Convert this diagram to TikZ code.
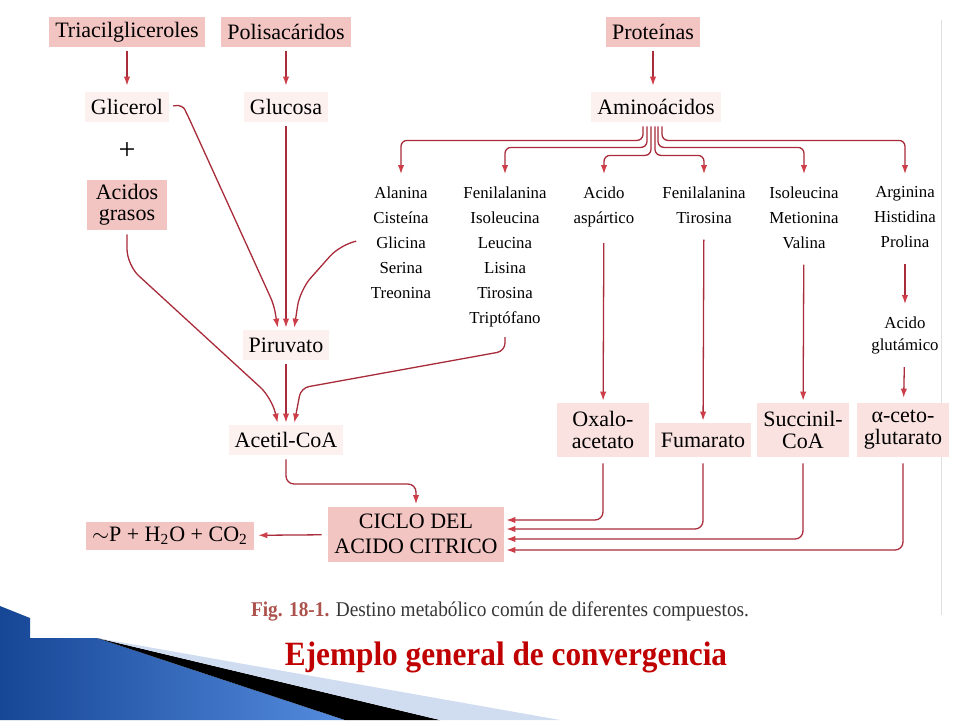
\documentclass[tikz,border=0pt]{standalone}
\usepackage{fontspec}
\setmainfont{Liberation Serif}
\newfontfamily\narrowserif[FakeStretch=0.92]{Liberation Serif}
\usetikzlibrary{arrows.meta, calc, positioning}

\definecolor{boxpink}{RGB}{242,197,195}
\definecolor{softpink}{RGB}{249,226,224}
\definecolor{palepink}{RGB}{253,241,240}
\definecolor{linered}{RGB}{168,44,58}
\definecolor{tipred}{RGB}{205,62,72}
\definecolor{titlered}{RGB}{192,0,0}
\definecolor{figred}{RGB}{172,82,76}
\definecolor{captiongray}{RGB}{55,55,55}
\definecolor{bluedark}{RGB}{22,70,150}
\definecolor{bluelight}{RGB}{85,140,222}
\definecolor{stripeblue}{RGB}{208,220,240}

\tikzset{
	mainbox/.style={fill=boxpink, inner xsep=3pt, inner ysep=0pt, minimum height=15pt, align=center, font=\fontsize{11}{12.5}\selectfont},
	midbox/.style={mainbox, fill=softpink, minimum width=46pt, font=\fontsize{11}{11}\selectfont},
	palebox/.style={mainbox, fill=palepink},
	aminolist/.style={inner sep=0pt, anchor=north, align=center, font=\fontsize{8.4}{12.5}\selectfont},
	flow/.style={draw=linered, line width=0.65pt, rounded corners=4pt, shorten <=2pt, shorten >=1pt, -{Latex[length=4.5pt, width=3.2pt, color=tipred]}},
}

\begin{document}
\begin{tikzpicture}[x=0.5pt, y=-0.5pt]
			\path[use as bounding box, fill=white] (0, 0) rectangle (960, 720);
			
			\shade[left color=bluedark, right color=bluelight] (0, 606) -- (30, 618) -- (30, 638) -- (97, 638) -- (345, 720) -- (0, 720) -- cycle;
			\fill[black] (97, 638) -- (440, 720) -- (345, 720) -- cycle;
			\fill[stripeblue] (97, 638) -- (560, 720) -- (440, 720) -- cycle;
			\draw[gray!25, line width=0.4pt] (941, 20) -- (941, 615);
			
			\node [mainbox] (Triacil) at (127, 32) {Triacilgliceroles};
			\node [mainbox] (Polisac) at (286, 32) {Polisacáridos};
			\node [mainbox] (Proteinas) at (653, 32) {Proteínas};
			\node [palebox] (Glicerol) at (127, 107) {Glicerol};
			\node [palebox] (Glucosa) at (286, 107) {Glucosa};
			\node [palebox] (Aminoac) at (656, 107) {Aminoácidos};
			\node [font=\fontsize{15}{15}\selectfont] (Mas) at (127, 151) {+};
			\node [mainbox, minimum width=40pt, minimum height=25pt, font=\fontsize{11}{10.5}\selectfont] (Grasos) at (127, 205) {Acidos\\grasos};
			\node [palebox] (Piruvato) at (286, 345) {Piruvato};
			\node [palebox] (AcetilCoA) at (286, 440) {Acetil-CoA};
			
			\node [aminolist] (Alanina) at (401, 186) {Alanina\\Cisteína\\Glicina\\Serina\\Treonina};
			\node [aminolist] (Fenil) at (505, 186) {Fenilalanina\\Isoleucina\\Leucina\\Lisina\\Tirosina\\Triptófano};
			\node [aminolist] (Aspartico) at (604, 186) {Acido\\aspártico};
			\node [aminolist] (Tirosina) at (704, 186) {Fenilalanina\\Tirosina};
			\node [aminolist] (Isoleucina) at (804, 186) {Isoleucina\\Metionina\\Valina};
			\node [aminolist] (Arginina) at (905, 186) {Arginina\\Histidina\\Prolina};
			\node [aminolist, font=\fontsize{8.4}{11}\selectfont] (Glutamico) at (905, 316) {Acido\\glutámico};
			
			\node [midbox, minimum height=27pt] (Oxalo) at (603, 430) {Oxalo-\\acetato};
			\node [midbox, minimum height=17pt] (Fumarato) at (703, 440) {Fumarato};
			\node [midbox, minimum height=27pt] (Succinil) at (803, 430) {Succinil-\\CoA};
			\node [midbox, minimum height=27pt] (Cetoglut) at (903, 430) {α-ceto-\\glutarato};
			
			\node [mainbox, minimum width=88pt, minimum height=27.5pt] (Ciclo) at (416, 534) {CICLO DEL\\ACIDO CITRICO};
			\node [mainbox, minimum width=84pt, minimum height=14pt] (Energia) at (170, 536) {$\sim$P + H\textsubscript{2}O + CO\textsubscript{2}};
			
			\node [font=\narrowserif\fontsize{10.5}{12}\selectfont, text=captiongray] (Pie) at (500, 611) {\textbf{\color{figred}Fig. 18-1.} Destino metabólico común de diferentes compuestos.};
			\node [font=\narrowserif\bfseries\fontsize{17}{20}\selectfont, text=titlered] (Titulo) at (506, 657) {Ejemplo general de convergencia};
			
			\draw [flow, shorten >=3pt] (Triacil) -- (Glicerol);
			\draw [flow, shorten >=3pt] (Polisac) -- (Glucosa);
			\draw [flow, shorten >=3pt] (Proteinas) -- (Proteinas |- Aminoac.north);
			
			\draw [flow] (Glicerol.east) .. controls (180, 104) and (184, 108) .. (188, 116) -- (274, 305) -- ([xshift=-4pt]Piruvato.north);
			\draw [flow] (Glucosa) -- (Piruvato);
			\draw [flow, rounded corners=8pt] ([xshift=-10pt]Alanina.west) -- ++(-10, 2) -- (300, 290) -- ([xshift=4pt]Piruvato.north);
			\draw [flow] (Piruvato) -- (AcetilCoA);
			\draw [flow, rounded corners=8pt] (Grasos.south) -- (127, 265) -- (272, 398) -- ([xshift=-4pt]AcetilCoA.north);
			\draw [flow, shorten <=5pt] (Fenil.south) -- ++(0, 24) -- (301, 388) -- ([xshift=4pt]AcetilCoA.north);
			\draw [flow] (AcetilCoA) -- (286, 484) -| (Ciclo);
			\draw [flow, shorten <=3pt, shorten >=2pt] (Ciclo) -- (Energia);
			
			\foreach \dest/\dx/\dy in {Alanina/-13/18, Fenil/-9/25, Aspartico/-5/33, Tirosina/-1/33, Isoleucina/2/25, Arginina/6/18}
				\draw [flow, shorten >=6pt, rounded corners=3pt] ([xshift=\dx*0.5pt]Aminoac.south) -- ++(0, \dy) -| (\dest.north);
			
			\draw [flow, shorten <=8pt] (Aspartico) -- (Oxalo);
			\draw [flow, shorten <=8pt] (Tirosina) -- (Fumarato);
			\draw [flow, shorten <=8pt] (Isoleucina) -- (Succinil);
			\draw [flow, shorten <=8pt, shorten >=6pt] (Arginina) -- (Glutamico);
			\draw [flow, shorten <=6.5pt, shorten >=2.5pt] (Glutamico) -- (Cetoglut);
			
			\draw [flow, shorten <=3pt] (Oxalo) |- ([yshift=7pt]Ciclo.east);
			\draw [flow, shorten <=3pt] (Fumarato) |- ([yshift=2.5pt]Ciclo.east);
			\draw [flow, shorten <=3pt] (Succinil) |- ([yshift=-2.5pt]Ciclo.east);
			\draw [flow, shorten <=3pt] (Cetoglut) |- ([yshift=-8pt]Ciclo.east);
		\end{tikzpicture}
\end{document}
